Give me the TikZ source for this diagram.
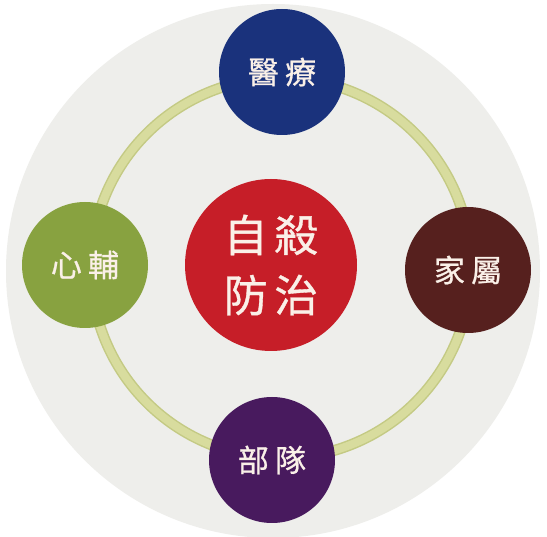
\documentclass[tikz,border=0pt]{standalone}
\usepackage{fontspec}
\newfontfamily\cjk[FakeBold=0.8]{Noto Sans CJK TC}
\definecolor{discgray}{RGB}{238,238,235}
\definecolor{ringgreen}{RGB}{216,220,158}
\definecolor{ringedge}{RGB}{196,202,132}
\definecolor{cblue}{RGB}{26,50,124}
\definecolor{cred}{RGB}{198,30,40}
\definecolor{cgreen}{RGB}{136,162,64}
\definecolor{cbrown}{RGB}{86,32,30}
\definecolor{cpurple}{RGB}{72,26,94}
\definecolor{ctext}{RGB}{250,240,232}
\tikzset{
  bubble/.style={circle, inner sep=0pt, minimum size=126pt, text=ctext,
    font=\cjk\fontsize{31}{34}\selectfont},
  hub/.style={bubble, minimum size=172pt, font=\cjk\fontsize{44}{60}\selectfont, align=center}
}
\begin{document}
\begin{tikzpicture}[x=1pt,y=-1pt]
\useasboundingbox (0,0) rectangle (547,537);
\fill[white] (0,0) rectangle (547,537);
% disc
\fill[discgray] (273,271) circle (267);
% ring
\draw[ringedge, line width=11pt] (281,268) circle (190);
\draw[ringgreen, line width=8pt] (281,268) circle (190);
% nodes
\node[hub, fill=cred] (center) at (271,265) {自\hspace{0.15em}殺\\防\hspace{0.15em}治};
\node[bubble, fill=cblue] (med) at (282,72) {醫\hspace{0.2em}療};
\node[bubble, fill=cgreen] (psy) at (85,265) {心\hspace{0.2em}輔};
\node[bubble, fill=cbrown] (fam) at (468,270) {家\hspace{0.2em}屬};
\node[bubble, fill=cpurple] (unit) at (272,460) {部\hspace{0.2em}隊};
\end{tikzpicture}
\end{document}
